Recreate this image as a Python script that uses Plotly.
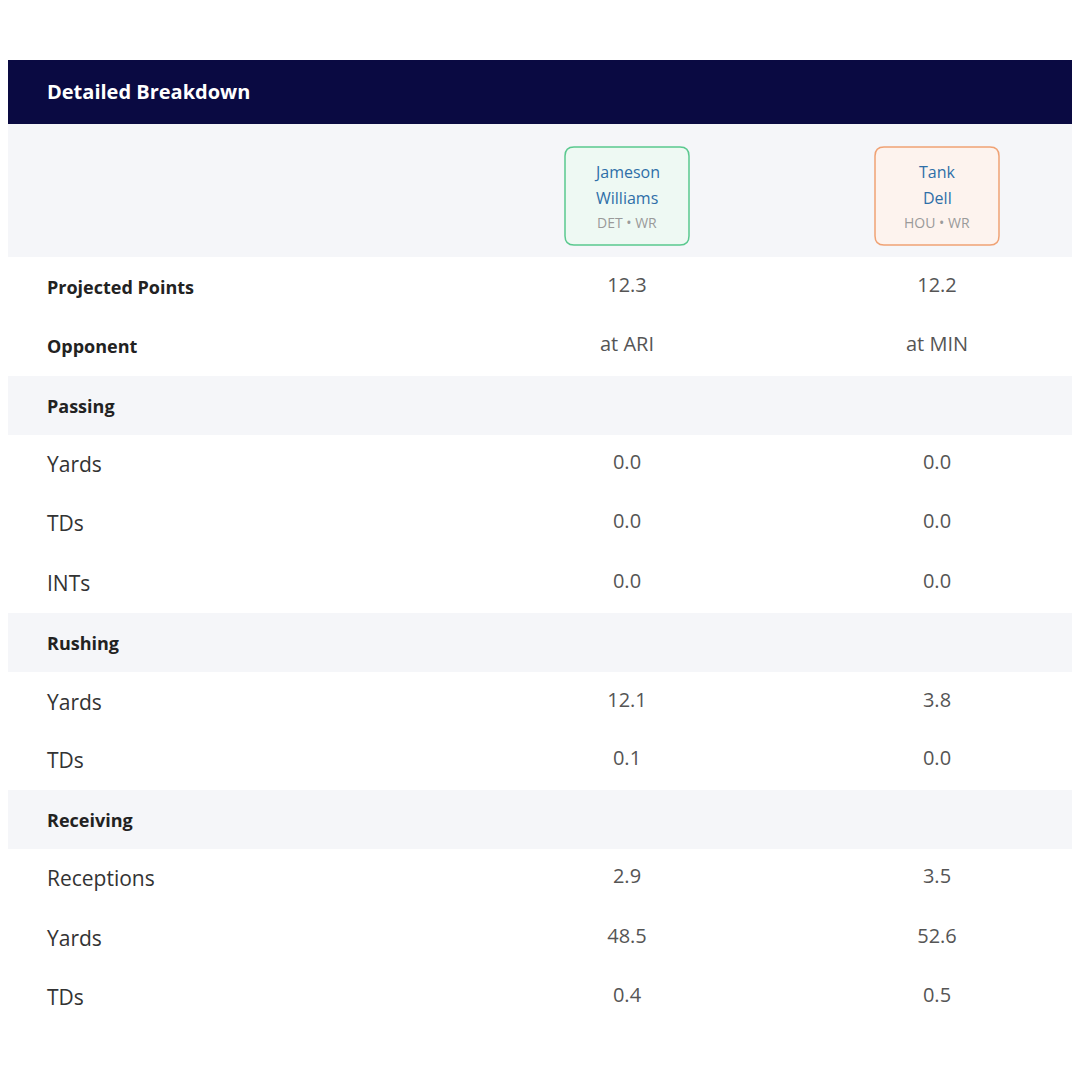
import plotly.graph_objects as go

# table contents
row_labels = ["Projected Points", "Opponent", "Passing", "Yards", "TDs", "INTs",
              "Rushing", "Yards", "TDs", "Receiving", "Receptions", "Yards", "TDs"]
row_kind = ["key", "key", "section", "stat", "stat", "stat",
            "section", "stat", "stat", "section", "stat", "stat", "stat"]
williams = ["12.3", "at ARI", "", "0.0", "0.0", "0.0", "", "12.1", "0.1", "", "2.9", "48.5", "0.4"]
dell = ["12.2", "at MIN", "", "0.0", "0.0", "0.0", "", "3.8", "0.0", "", "3.5", "52.6", "0.5"]
players = [("Jameson", "Williams", "DET • WR"), ("Tank", "Dell", "HOU • WR")]

row_y = [271, 330, 390, 448, 507, 567, 627, 686, 744, 804, 862, 922, 981]
col_x = [611, 921]
FONT = "Open Sans"

fig = go.Figure()
shapes = []
# header bar
shapes.append(dict(type="rect", x0=-10, x1=1077, y0=44, y1=108, fillcolor="#0a0a42", line_width=0, layer="below"))
shapes.append(dict(type="rect", x0=-10, x1=1077, y0=108, y1=241, fillcolor="#f5f6f9", line_width=0, layer="below"))
for y, k in zip(row_y, row_kind):
    if k == "section":
        shapes.append(dict(type="rect", x0=-10, x1=1077, y0=y - 30, y1=y + 29, fillcolor="#f5f6f9", line_width=0, layer="below"))
shapes.append(dict(type="line", x0=1078, x1=1078, y0=44, y1=1040, line=dict(color="#e4e4e8", width=1)))


def rounded(x0, y0, x1, y1, r):
    return (f"M{x0+r},{y0} L{x1-r},{y0} Q{x1},{y0} {x1},{y0+r} L{x1},{y1-r} Q{x1},{y1} {x1-r},{y1} "
            f"L{x0+r},{y1} Q{x0},{y1} {x0},{y1-r} L{x0},{y0+r} Q{x0},{y0} {x0+r},{y0} Z")


box_style = [("#eef9f3", "#5ac98f"), ("#fdf3ee", "#f0a274")]
for cx, (fill, line) in zip(col_x, box_style):
    shapes.append(dict(type="path", path=rounded(cx - 62, 131, cx + 62, 229, 9),
                       fillcolor=fill, line=dict(color=line, width=1.5), layer="below"))

annotations = [dict(x=29, y=75, text="<b>Detailed Breakdown</b>", showarrow=False, xanchor="left",
                    font=dict(family=FONT, size=20, color="white"))]
for cx, (first, last, team) in zip(col_x, players):
    annotations.append(dict(x=cx, y=156, text=first, showarrow=False, font=dict(family=FONT, size=16, color="#2f6fa8")))
    annotations.append(dict(x=cx, y=182, text=last, showarrow=False, font=dict(family=FONT, size=16, color="#2f6fa8")))
    annotations.append(dict(x=cx, y=206, text=team, showarrow=False, font=dict(family=FONT, size=14, color="#9a9a9a")))

# row labels
for lab, k, y in zip(row_labels, row_kind, row_y):
    bold = k in ("key", "section")
    annotations.append(dict(x=29, y=y, text=f"<b>{lab}</b>" if bold else lab, showarrow=False, xanchor="left",
                            font=dict(family=FONT, size=18 if bold else 21, color="#222222" if bold else "#333333")))

for cx, vals in zip(col_x, [williams, dell]):
    fig.add_trace(go.Scatter(x=[cx] * len(vals), y=row_y, mode="text", text=vals,
                             textfont=dict(family=FONT, size=20, color="#555555"), hoverinfo="skip"))

# page body has an 8px margin, so shift the ranges to keep pixel coordinates
fig.update_layout(width=1080, height=1080, margin=dict(l=0, r=0, t=0, b=0), showlegend=False,
                  paper_bgcolor="white", plot_bgcolor="white", shapes=shapes, annotations=annotations,
                  xaxis=dict(range=[-8, 1072], visible=False, fixedrange=True),
                  yaxis=dict(range=[1072, -8], visible=False, fixedrange=True))
fig.write_html("out.html")
